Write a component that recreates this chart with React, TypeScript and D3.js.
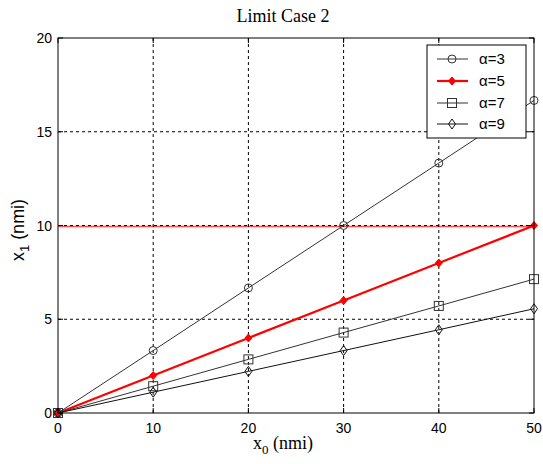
import React from "react";
import * as d3 from "d3";

const xValues = [0, 10, 20, 30, 40, 50];
const alpha3 = [0, 3.33, 6.67, 10, 13.33, 16.67];
const alpha5 = [0, 2, 4, 6, 8, 10];
const alpha7 = [0, 1.43, 2.86, 4.29, 5.71, 7.14];
const alpha9 = [0, 1.11, 2.22, 3.33, 4.44, 5.56];
const seriesNames = ["α=3", "α=5", "α=7", "α=9"];
const xTicks = [0, 10, 20, 30, 40, 50];
const yTicks = [0, 5, 10, 15, 20];
const limitValue = 9.95;

const W = 543, H = 464;
const M = { left: 58, right: 534, top: 38, bottom: 413 };

export default function App() {
  const x = d3.scaleLinear().domain([0, 50]).range([M.left, M.right]);
  const y = d3.scaleLinear().domain([0, 20]).range([M.bottom, M.top]);
  const line = d3.line<number>().x((_, i) => x(xValues[i])).y((d) => y(d));
  const series = [
    { name: seriesNames[0], vals: alpha3, color: "#333", w: 1, marker: "circle" },
    { name: seriesNames[1], vals: alpha5, color: "#ff0000", w: 2.2, marker: "star" },
    { name: seriesNames[2], vals: alpha7, color: "#333", w: 1, marker: "square" },
    { name: seriesNames[3], vals: alpha9, color: "#111", w: 1, marker: "diamond" },
  ];
  const marker = (m: string, cx: number, cy: number, color: string, key: any) => {
    if (m === "circle") return <circle key={key} cx={cx} cy={cy} r={4} fill="none" stroke={color} strokeWidth={1} />;
    if (m === "square") return <rect key={key} x={cx - 4.5} y={cy - 4.5} width={9} height={9} fill="none" stroke={color} strokeWidth={1} />;
    if (m === "diamond") return <path key={key} d={`M${cx},${cy - 5}L${cx + 3.5},${cy}L${cx},${cy + 5}L${cx - 3.5},${cy}Z`} fill="none" stroke={color} strokeWidth={1} />;
    return <path key={key} d={`M${cx},${cy - 4}L${cx + 3.5},${cy}L${cx},${cy + 4}L${cx - 3.5},${cy}Z`} fill={color} stroke={color} strokeWidth={1} />;
  };
  const sans = "'Liberation Sans', Arial, sans-serif";
  const serif = "'Liberation Serif', 'Times New Roman', serif";
  const legendY = [59, 81, 103, 124];
  return (
    <svg width={W} height={H} style={{ position: "absolute", left: 0, top: 0, background: "#fff" }}>
      <rect x={0} y={0} width={W} height={H} fill="#fff" />
      <line x1={M.left} x2={M.right} y1={y(limitValue)} y2={y(limitValue)} stroke="#ff5050" strokeWidth={1.5} />
      {xTicks.slice(1, -1).map((t) => (
        <line key={"gx" + t} x1={x(t)} x2={x(t)} y1={M.top} y2={M.bottom} stroke="#000" strokeWidth={1} strokeDasharray="3,3" />
      ))}
      {yTicks.slice(1, -1).map((t) => (
        <line key={"gy" + t} x1={M.left} x2={M.right} y1={y(t)} y2={y(t)} stroke="#000" strokeWidth={1} strokeDasharray="3,3" />
      ))}
      {series.map((s, si) => (
        <g key={si}>
          <path d={line(s.vals) || ""} fill="none" stroke={s.color} strokeWidth={s.w} />
          {s.vals.map((v, i) => marker(s.marker, x(xValues[i]), y(v), s.color, i))}
        </g>
      ))}
      <rect x={M.left} y={M.top} width={M.right - M.left} height={M.bottom - M.top} fill="none" stroke="#000" strokeWidth={1} />
      {xTicks.map((t) => (
        <g key={"xt" + t}>
          <line x1={x(t)} x2={x(t)} y1={M.bottom} y2={M.bottom - 5} stroke="#000" />
          <line x1={x(t)} x2={x(t)} y1={M.top} y2={M.top + 5} stroke="#000" />
          <text x={x(t)} y={433} textAnchor="middle" fontFamily={sans} fontSize={14} fill="#000">{t}</text>
        </g>
      ))}
      {yTicks.map((t) => (
        <g key={"yt" + t}>
          <line x1={M.left} x2={M.left + 5} y1={y(t)} y2={y(t)} stroke="#000" />
          <line x1={M.right} x2={M.right - 5} y1={y(t)} y2={y(t)} stroke="#000" />
          <text x={52} y={y(t) + 5} textAnchor="end" fontFamily={sans} fontSize={14} fill="#000">{t}</text>
        </g>
      ))}
      <text x={283} y={22} textAnchor="middle" fontFamily={serif} fontSize={18} fill="#000">Limit Case 2</text>
      <text x={283} y={449} textAnchor="middle" fontFamily={serif} fontSize={18} fill="#000">
        x<tspan dy={5} fontSize={13}>0</tspan><tspan dy={-5}> (nmi)</tspan>
      </text>
      <text transform={`translate(24,${230}) rotate(-90)`} textAnchor="middle" fontFamily={sans} fontSize={18} fill="#000">
        x<tspan dy={5} fontSize={13}>1</tspan><tspan dy={-5}> (nmi)</tspan>
      </text>
      <rect x={427} y={45} width={99} height={93} fill="#fff" stroke="#000" strokeWidth={1} />
      {series.map((s, i) => (
        <g key={"lg" + i}>
          <line x1={437} x2={468} y1={legendY[i]} y2={legendY[i]} stroke={s.color} strokeWidth={s.w} />
          {marker(s.marker, 452, legendY[i], s.color, "m")}
          <text x={479} y={legendY[i] + 5} fontFamily={sans} fontSize={15} fill="#000">{s.name}</text>
        </g>
      ))}
    </svg>
  );
}
